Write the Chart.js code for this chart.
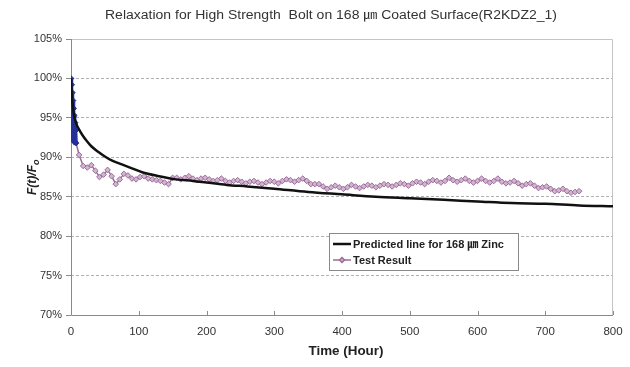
<!DOCTYPE html>
<html>
<head>
<meta charset="utf-8">
<script src="https://cdn.jsdelivr.net/npm/chart.js@4/dist/chart.umd.min.js"></script>
<style>
  html, body { margin: 0; padding: 0; background: #fff; }
  #wrap { width: 630px; height: 367px; position: relative; }
</style>
</head>
<body>
<div id="wrap"><canvas id="relaxChart"></canvas></div>
<script>
// relaxation of bolt preload over time, percent of initial force
const predictedHours = [0, 1, 2, 3, 5, 8, 12, 17, 23, 30, 40, 50, 60, 75, 90, 105, 130, 155, 180, 200,
    230, 260, 300, 350, 400, 450, 500, 550, 600, 650, 700, 750, 800];
const predictedValues = [100, 98.2, 97.0, 96.2, 95.1, 94.2, 93.5, 92.8, 92.1, 91.4, 90.7, 90.1, 89.6, 89.1, 88.6, 88.1, 87.6, 87.2, 87.0, 86.8,
    86.5, 86.3, 86.0, 85.6, 85.3, 85.0, 84.8, 84.6, 84.4, 84.2, 84.1, 83.9, 83.8];

// first hours (loading phase) are logged much denser
const testHours = [0, 0.5, 1, 1.5, 2, 2.5, 3, 3.5, 4, 4.5, 5, 5.5, 6, 6.5, 7, 7.5,
    12, 18, 24, 30, 36, 42, 48, 54, 60, 66, 72, 78, 84, 90, 96, 102, 108, 114, 120, 126, 132, 138, 144, 150,
    156, 162, 168, 174, 180, 186, 192, 198, 204, 210, 216, 222, 228, 234, 240, 246, 252, 258, 264, 270,
    276, 282, 288, 294, 300, 306, 312, 318, 324, 330, 336, 342, 348, 354, 360, 366, 372, 378, 384, 390,
    396, 402, 408, 414, 420, 426, 432, 438, 444, 450, 456, 462, 468, 474, 480, 486, 492, 498, 504, 510,
    516, 522, 528, 534, 540, 546, 552, 558, 564, 570, 576, 582, 588, 594, 600, 606, 612, 618, 624, 630,
    636, 642, 648, 654, 660, 666, 672, 678, 684, 690, 696, 702, 708, 714, 720, 726, 732, 738, 744, 750];
const testValues = [100, 92.5, 99.2, 92.3, 98.2, 92.2, 97.2, 92.1, 96.2, 92.0, 95.3, 92.0, 94.4, 91.9, 93.4, 91.8,
    90.3, 88.9, 88.7, 89.0, 88.3, 87.5, 87.8, 88.4, 87.6, 86.6, 87.2, 87.9, 87.7, 87.3, 87.2, 87.5, 87.6, 87.3, 87.2, 87.1, 87.0, 86.8, 86.6, 87.4,
    87.4, 87.2, 87.4, 87.6, 87.3, 87.1, 87.3, 87.4, 87.2, 87.0, 87.1, 87.3, 87.0, 86.8, 87.0, 87.1, 86.9, 86.7, 86.9, 87.0,
    86.8, 86.6, 86.8, 87.0, 86.9, 86.7, 87.0, 87.2, 87.1, 86.9, 87.1, 87.3, 87.0, 86.6, 86.6, 86.6, 86.3, 86.0, 86.2, 86.4,
    86.2, 86.0, 86.2, 86.5, 86.3, 86.1, 86.3, 86.5, 86.4, 86.2, 86.4, 86.6, 86.5, 86.3, 86.5, 86.7, 86.6, 86.4, 86.7, 86.9,
    86.8, 86.6, 86.9, 87.1, 87.0, 86.8, 87.0, 87.4, 87.1, 86.9, 87.1, 87.3, 87.0, 86.8, 87.0, 87.3, 87.0, 86.8, 87.0, 87.3,
    86.9, 86.7, 86.8, 87.0, 86.7, 86.4, 86.6, 86.7, 86.4, 86.1, 86.2, 86.3, 86.0, 85.7, 85.8, 86.0, 85.7, 85.5, 85.6, 85.7];

const yTicks = [70, 75, 80, 85, 90, 95, 100, 105];
const xTicks = [0, 100, 200, 300, 400, 500, 600, 700, 800];

const LOAD_PHASE_END = 7.5;
const BLUE = "#24309a";
const MAUVE = "#9a6c98";
const MAUVE_FILL = "#d2b4d0";
const FONT = "'Liberation Sans', Arial, 'Noto Sans CJK KR', sans-serif";
const TITLE = "Relaxation for High Strength  Bolt on 168 \u339B Coated Surface(R2KDZ2_1)";

const toPoints = (xs, ys) => xs.map((x, i) => ({ x, y: ys[i] }));

// text squeezed/stretched to a given width (the original uses a wider face)
function fitText(ctx, text, cx, cy, width) {
    const w = ctx.measureText(text).width;
    ctx.save();
    ctx.translate(cx, cy);
    ctx.scale(width / w, 1);
    ctx.textAlign = "center";
    ctx.fillText(text, 0, 0);
    ctx.restore();
}

// frame, inner x ticks, titles and the boxed legend
const decorations = {
    id: "decorations",
    beforeDatasetsDraw(chart) {
        const { ctx, chartArea: a, scales } = chart;
        ctx.save();
        ctx.strokeStyle = "#c4c4c4";
        ctx.lineWidth = 1;
        ctx.beginPath();
        ctx.moveTo(a.left, a.top + 0.5);
        ctx.lineTo(a.right - 0.5, a.top + 0.5);
        ctx.lineTo(a.right - 0.5, a.bottom);
        ctx.stroke();

        ctx.strokeStyle = "#8a8a8a";
        ctx.beginPath();
        ctx.moveTo(a.left + 0.5, a.top);
        ctx.lineTo(a.left + 0.5, a.bottom + 0.5);
        ctx.lineTo(a.right, a.bottom + 0.5);
        ctx.stroke();

        // small tick marks pointing into the plot
        ctx.beginPath();
        scales.x.ticks.forEach(t => {
            const px = Math.round(scales.x.getPixelForValue(t.value)) + 0.5;
            ctx.moveTo(px, a.bottom);
            ctx.lineTo(px, a.bottom - 4);
        });
        ctx.stroke();
        ctx.restore();
    },
    afterDraw(chart) {
        const { ctx } = chart;
        ctx.save();
        ctx.fillStyle = "#333";
        ctx.textBaseline = "middle";
        ctx.font = "12px " + FONT;
        fitText(ctx, TITLE, 331, 16, 452);

        ctx.font = "bold 12px " + FONT;
        ctx.fillStyle = "#222";
        fitText(ctx, "Time (Hour)", 346, 352, 75);

        // y title with subscript o
        ctx.translate(33, 177);
        ctx.rotate(-Math.PI / 2);
        ctx.font = "italic bold 12px " + FONT;
        const main = "F(t)/F";
        const w = ctx.measureText(main).width;
        ctx.textAlign = "left";
        ctx.fillText(main, -(w + 6) / 2, 0);
        ctx.font = "italic bold 9px " + FONT;
        ctx.fillText("o", -(w + 6) / 2 + w, 4);
        ctx.restore();

        // legend box
        const lx = 329, ly = 233, lw = 189, lh = 37;
        ctx.save();
        ctx.fillStyle = "#fff";
        ctx.fillRect(lx, ly, lw, lh);
        ctx.strokeStyle = "#8a8a8a";
        ctx.lineWidth = 1;
        ctx.strokeRect(lx + 0.5, ly + 0.5, lw, lh);
        ctx.font = "bold 11px " + FONT;
        ctx.textBaseline = "middle";
        chart.data.datasets.forEach((ds, i) => {
            const y = ly + 11 + i * 16;
            ctx.strokeStyle = i === 0 ? "#111" : MAUVE;
            ctx.lineWidth = i === 0 ? 2.5 : 1.5;
            ctx.beginPath();
            ctx.moveTo(lx + 4, y);
            ctx.lineTo(lx + 22, y);
            ctx.stroke();
            if (i === 1) {
                ctx.fillStyle = MAUVE_FILL;
                ctx.beginPath();
                ctx.moveTo(lx + 13, y - 2.5);
                ctx.lineTo(lx + 15.5, y);
                ctx.lineTo(lx + 13, y + 2.5);
                ctx.lineTo(lx + 10.5, y);
                ctx.closePath();
                ctx.fill();
                ctx.stroke();
            }
            ctx.fillStyle = "#222";
            ctx.fillText(ds.label, lx + 24, y + 1);
        });
        ctx.restore();
    }
};

const inLoadPhase = x => x <= LOAD_PHASE_END;

new Chart(document.getElementById("relaxChart"), {
    type: "line",
    data: {
        datasets: [{
            label: "Predicted line for 168 \u339B Zinc",
            data: toPoints(predictedHours, predictedValues),
            borderColor: "#111",
            borderWidth: 2.5,
            pointRadius: 0,
            cubicInterpolationMode: "monotone",
            order: 1
        }, {
            label: "Test Result",
            data: toPoints(testHours, testValues),
            borderColor: MAUVE,
            borderWidth: 1.5,
            pointStyle: "rectRot",
            pointRadius: 2.8,
            pointBorderWidth: 1,
            pointBorderColor: c => c.raw && inLoadPhase(c.raw.x) ? BLUE : MAUVE,
            pointBackgroundColor: c => c.raw && inLoadPhase(c.raw.x) ? BLUE : MAUVE_FILL,
            segment: {
                borderColor: c => inLoadPhase(c.p1.parsed.x) ? BLUE : MAUVE,
                borderWidth: c => inLoadPhase(c.p1.parsed.x) ? 3.5 : 1.5
            },
            order: 2
        }]
    },
    options: {
        responsive: true,
        maintainAspectRatio: false,
        animation: false,
        layout: { padding: { left: 0, top: 39, right: 17, bottom: 0 } },
        plugins: {
            legend: { display: false },
            title: { display: false },
            tooltip: { enabled: false }
        },
        scales: {
            x: {
                type: "linear",
                min: 0,
                max: 800,
                afterBuildTicks: s => { s.ticks = xTicks.map(v => ({ value: v })); },
                afterFit: s => { s.height = 52; s.paddingLeft = 0; s.paddingRight = 0; },
                grid: { display: false, drawTicks: false },
                border: { display: false },
                ticks: { padding: 10, color: "#333", font: { size: 11.5, family: FONT }, maxRotation: 0 }
            },
            y: {
                min: 70,
                max: 105,
                afterBuildTicks: s => { s.ticks = yTicks.map(v => ({ value: v })); },
                afterFit: s => { s.width = 71; s.paddingTop = 0; s.paddingBottom = 0; },
                grid: {
                    color: c => (c.tick && (c.tick.value === 70 || c.tick.value === 105)) ? "rgba(0,0,0,0)" : "#b0b0b0",
                    tickColor: "#8a8a8a",
                    tickLength: 5,
                    lineWidth: 1
                },
                border: { display: false, dash: [3, 2] },
                ticks: {
                    padding: 4,
                    color: "#333",
                    font: { size: 11, family: FONT },
                    callback: v => v + "%"
                }
            }
        }
    },
    plugins: [decorations]
});
</script>
</body>
</html>
